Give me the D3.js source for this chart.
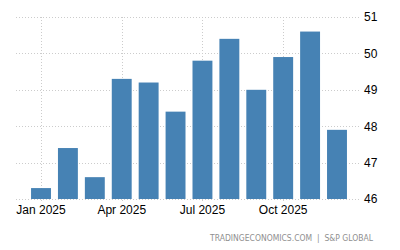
<!DOCTYPE html>
<html>
<head>
<meta charset="utf-8">
<script src="https://cdn.jsdelivr.net/npm/d3@7"></script>
<style>
html,body{margin:0;padding:0;background:#fff;}
svg{display:block;font-family:"Liberation Sans",Arial,sans-serif;}
</style>
</head>
<body>
<svg id="chart" width="400" height="250"></svg>
<script>
const months = ["Jan 2025","Feb 2025","Mar 2025","Apr 2025","May 2025","Jun 2025","Jul 2025","Aug 2025","Sep 2025","Oct 2025","Nov 2025","Dec 2025"];
const values = [46.3, 47.4, 46.6, 49.3, 49.2, 48.4, 49.8, 50.4, 49.0, 49.9, 50.6, 47.9];
const yTicks = [46, 47, 48, 49, 50, 51];
const xTickLabels = ["Jan 2025","Apr 2025","Jul 2025","Oct 2025"];
const footer = "TRADINGECONOMICS.COM  |  S&P GLOBAL";

const svg = d3.select("#chart");
const x = d3.scaleBand().domain(months).range([27.55, 350.45]).paddingInner(0.26).paddingOuter(0.13);
const y = d3.scaleLinear().domain([46, 51]).range([199, 17]);

// horizontal grid
svg.append("g").selectAll("line").data(yTicks).join("line")
  .attr("x1", 16).attr("x2", 360)
  .attr("y1", d => Math.round(y(d)) + 0.5).attr("y2", d => Math.round(y(d)) + 0.5)
  .attr("stroke", "#ccc").attr("stroke-dasharray", "1,2");

// vertical grid
svg.append("g").selectAll("line").data(xTickLabels).join("line")
  .attr("x1", d => Math.round(x(d) + x.bandwidth()/2) + 0.5)
  .attr("x2", d => Math.round(x(d) + x.bandwidth()/2) + 0.5)
  .attr("y1", 17).attr("y2", 203)
  .attr("stroke", "#ccc").attr("stroke-dasharray", "1,2");

// bars
svg.append("g").selectAll("rect").data(values).join("rect")
  .attr("x", (d, i) => x(months[i]))
  .attr("width", x.bandwidth())
  .attr("y", d => y(d))
  .attr("height", d => y(46) - y(d))
  .attr("fill", "#4682b4");

// y axis (right)
const yAxis = d3.axisRight(y).tickValues(yTicks).tickSize(0).tickPadding(0).tickFormat(d3.format("d"));
const gy = svg.append("g").attr("transform", "translate(364,0)").call(yAxis);
gy.select(".domain").remove();
gy.selectAll("text").attr("font-size", 12).attr("fill", "#000").attr("font-family", "Liberation Sans, Arial, sans-serif");

// x axis
const xAxis = d3.axisBottom(x).tickValues(xTickLabels).tickSize(0).tickPadding(0);
const gx = svg.append("g").attr("transform", "translate(0,205)").call(xAxis);
gx.select(".domain").remove();
gx.selectAll("text").attr("font-size", 12).attr("fill", "#000").attr("dy", "0.71em").attr("font-family", "Liberation Sans, Arial, sans-serif");

// footer
svg.append("text").attr("x", 210).attr("y", 241)
  .attr("font-size", 8).attr("font-family", "DejaVu Sans, sans-serif")
  .attr("textLength", 163).attr("lengthAdjust", "spacingAndGlyphs")
  .attr("fill", "#8f8f8f").style("white-space", "pre").text(footer);
</script>
</body>
</html>
